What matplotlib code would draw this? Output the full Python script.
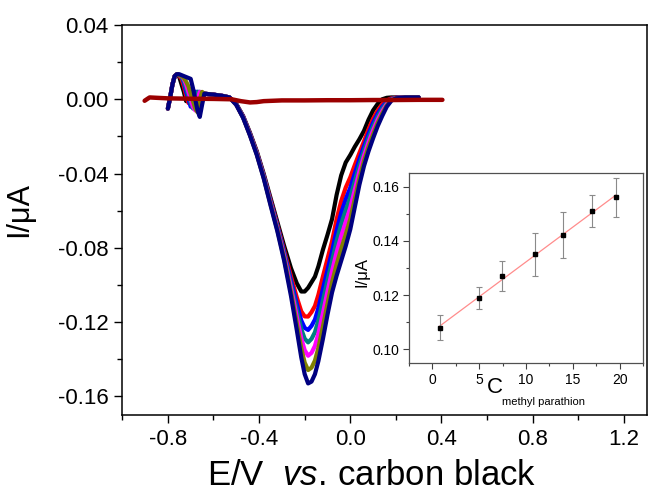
import numpy as np
import matplotlib
matplotlib.use('Agg')
import matplotlib.pyplot as plt
from matplotlib.ticker import MultipleLocator

plt.rcParams['font.family'] = ['Liberation Sans', 'DejaVu Sans']
plt.rcParams['mathtext.fontset'] = 'custom'
plt.rcParams['mathtext.rm'] = 'Liberation Sans'
plt.rcParams['mathtext.it'] = 'Liberation Sans:italic'
plt.rcParams['axes.unicode_minus'] = False

# ---- DPV curves (shared potential grid, V) ----
E = [-0.800, -0.790, -0.780, -0.770, -0.760, -0.750, -0.740, -0.730, -0.720, -0.710,
     -0.700, -0.690, -0.680, -0.670, -0.660, -0.650, -0.640, -0.600, -0.560, -0.530,
     -0.500, -0.470, -0.440, -0.410, -0.380, -0.350, -0.320, -0.290, -0.260, -0.235,
     -0.215, -0.200, -0.185, -0.170, -0.155, -0.140, -0.120, -0.100, -0.080, -0.060,
     -0.040, -0.020, 0.000, 0.020, 0.040, 0.060, 0.080, 0.100, 0.120, 0.140,
     0.160, 0.180, 0.200, 0.240, 0.300]

I_black = [-0.005, 0.001, 0.008, 0.0125, 0.0135, 0.012, 0.008, 0.004, -0.001, 0.002,
           0.004, 0.004, 0.0035, 0.003, 0.003, 0.003, 0.003, 0.0025, 0.0018, 0.001,
           -0.0025, -0.009, -0.018, -0.028, -0.040, -0.053, -0.066, -0.079, -0.091, -0.099,
           -0.1035, -0.1035, -0.1015, -0.0985, -0.0955, -0.090, -0.081, -0.073, -0.0645, -0.0515,
           -0.041, -0.034, -0.030, -0.0255, -0.0215, -0.017, -0.011, -0.006, -0.0025, 0.000,
           0.0008, 0.001, 0.001, 0.001, 0.001]
I_red = [-0.005, 0.001, 0.008, 0.0125, 0.0135, 0.0125, 0.011, 0.007, 0.002, -0.002,
         -0.001, 0.003, 0.004, 0.0035, 0.003, 0.003, 0.003, 0.0025, 0.0018, 0.001,
         -0.0027, -0.0093, -0.0185, -0.0286, -0.0408, -0.0542, -0.0675, -0.0814, -0.0955, -0.1065,
         -0.1142, -0.1169, -0.1170, -0.1146, -0.1113, -0.1053, -0.0954, -0.0859, -0.0764, -0.0646,
         -0.0548, -0.0475, -0.0420, -0.0353, -0.0289, -0.0227, -0.0161, -0.0105, -0.0061, -0.0027,
         -0.0006, 0.0005, 0.0009, 0.001, 0.001]
I_blue = [-0.005, 0.001, 0.008, 0.0125, 0.0135, 0.013, 0.012, 0.009, 0.004, 0.000,
          -0.004, 0.000, 0.004, 0.004, 0.0035, 0.003, 0.003, 0.0025, 0.0018, 0.001,
          -0.0027, -0.0094, -0.0187, -0.0289, -0.0411, -0.0548, -0.0682, -0.0825, -0.0976, -0.1100,
          -0.1191, -0.1231, -0.1242, -0.1220, -0.1186, -0.1124, -0.1021, -0.0919, -0.0819, -0.0706,
          -0.0612, -0.0538, -0.0476, -0.0398, -0.0323, -0.0254, -0.0185, -0.0126, -0.0078, -0.0040,
          -0.0013, 0.0002, 0.0008, 0.001, 0.001]
I_teal = [-0.005, 0.001, 0.008, 0.0125, 0.0135, 0.013, 0.012, 0.010, 0.006, 0.002,
          -0.002, -0.005, 0.000, 0.004, 0.004, 0.0035, 0.003, 0.0025, 0.0018, 0.001,
          -0.0028, -0.0096, -0.0189, -0.0291, -0.0414, -0.0553, -0.0689, -0.0836, -0.0996, -0.1133,
          -0.1237, -0.1289, -0.1309, -0.1290, -0.1254, -0.1191, -0.1084, -0.0975, -0.0870, -0.0763,
          -0.0672, -0.0597, -0.0528, -0.0440, -0.0355, -0.0278, -0.0207, -0.0146, -0.0093, -0.0051,
          -0.0019, 0.0000, 0.0007, 0.001, 0.001]
I_magenta = [-0.005, 0.001, 0.008, 0.0125, 0.0135, 0.013, 0.0125, 0.011, 0.008, 0.004,
             0.000, -0.004, -0.006, 0.000, 0.004, 0.0035, 0.003, 0.0025, 0.0018, 0.001,
             -0.0029, -0.0097, -0.0191, -0.0294, -0.0418, -0.0558, -0.0696, -0.0847, -0.1017, -0.1168,
             -0.1287, -0.1351, -0.1381, -0.1365, -0.1328, -0.1262, -0.1151, -0.1035, -0.0925, -0.0824,
             -0.0737, -0.0660, -0.0584, -0.0486, -0.0389, -0.0305, -0.0231, -0.0167, -0.0110, -0.0064,
             -0.0026, -0.0003, 0.0006, 0.001, 0.001]
I_olive = [-0.005, 0.001, 0.008, 0.0125, 0.0135, 0.013, 0.0125, 0.0115, 0.0095, 0.007,
           0.003, -0.001, -0.005, -0.007, 0.000, 0.004, 0.003, 0.0025, 0.0018, 0.001,
           -0.0029, -0.0099, -0.0193, -0.0297, -0.0422, -0.0564, -0.0703, -0.0859, -0.1039, -0.1205,
           -0.1340, -0.1418, -0.1458, -0.1445, -0.1407, -0.1339, -0.1223, -0.1100, -0.0985, -0.0889,
           -0.0806, -0.0727, -0.0644, -0.0535, -0.0426, -0.0333, -0.0256, -0.0189, -0.0128, -0.0077,
           -0.0033, -0.0005, 0.0006, 0.001, 0.001]
I_navy = [-0.005, 0.001, 0.008, 0.0125, 0.0135, 0.0135, 0.013, 0.0125, 0.012, 0.0115,
          0.011, 0.006, 0.000, -0.006, -0.0095, -0.003, 0.003, 0.0025, 0.0018, 0.001,
          -0.003, -0.010, -0.0195, -0.030, -0.0425, -0.057, -0.071, -0.087, -0.106, -0.124,
          -0.139, -0.148, -0.153, -0.152, -0.148, -0.141, -0.129, -0.116, -0.104, -0.095,
          -0.087, -0.079, -0.070, -0.058, -0.046, -0.036, -0.028, -0.021, -0.0145, -0.009,
          -0.004, -0.0008, 0.0005, 0.001, 0.001]

curves = [I_black, I_red, I_blue, I_teal, I_magenta, I_olive, I_navy]
colors = ['#000000', '#ff0000', '#0000ff', '#008080', '#ff00ff', '#808000', '#000080']

# blank (no analyte)
E_blank = [-0.902, -0.890, -0.880, -0.850, -0.800, -0.750, -0.700, -0.600, -0.520, -0.480,
           -0.440, -0.410, -0.380, -0.340, -0.300, -0.200, -0.100, 0.000, 0.100, 0.200,
           0.300, 0.404]
I_blank = [-0.0008, 0.0002, 0.001, 0.0008, 0.0005, 0.0004, 0.0003, 0.0002, 0.0, -0.001,
           -0.0017, -0.0015, -0.001, -0.0008, -0.0006, -0.0006, -0.0005, -0.0005, -0.0004, -0.0004,
           -0.0003, -0.0003]

# ---- calibration inset ----
conc = [0.8, 5.0, 7.4, 11.0, 14.0, 17.0, 19.6]
peak = [0.108, 0.119, 0.127, 0.135, 0.142, 0.151, 0.156]
err = [0.0045, 0.004, 0.0055, 0.008, 0.0085, 0.006, 0.0073]

fig = plt.figure(figsize=(6.48, 4.95), dpi=100)
ax = fig.add_axes([0.1887, 0.1616, 0.8093, 0.7879])

for y, c in zip(curves, colors):
    ax.plot(E, y, color=c, lw=3.0, solid_joinstyle='round', solid_capstyle='round')
ax.plot(E_blank, I_blank, color='#9b0000', lw=3.2, solid_capstyle='round')

ax.set_xlim(-1.0, 1.3)
ax.set_ylim(-0.17, 0.04)
ax.xaxis.set_minor_locator(MultipleLocator(0.2))
ax.yaxis.set_minor_locator(MultipleLocator(0.02))
ax.set_xticks([-0.8, -0.4, 0.0, 0.4, 0.8, 1.2])
ax.set_xticklabels(['-0.8', '-0.4', '0.0', '0.4', '0.8', '1.2'])
ax.set_yticks([0.04, 0.0, -0.04, -0.08, -0.12, -0.16])
ax.set_yticklabels(['0.04', '0.00', '-0.04', '-0.08', '-0.12', '-0.16'])
ax.tick_params(which='major', direction='out', length=6, width=1, labelsize=16, pad=4)
ax.tick_params(which='minor', direction='out', length=3.5, width=1)
for s in ax.spines.values():
    s.set_linewidth(1.1)

ax.set_xlabel(r'E/V  $\it{vs.}\,$carbon black', fontsize=25)
ax.xaxis.set_label_coords(0.476, -0.112)
ax.set_ylabel('I/\u03bcA', fontsize=22)
ax.yaxis.set_label_coords(-0.168, 0.526)

# inset
axi = fig.add_axes([0.6312, 0.2667, 0.3611, 0.3838])
fit = np.polyfit(conc, peak, 1)
xs = np.array([conc[0], conc[-1]])
axi.plot(xs, np.polyval(fit, xs), color='#ff8c8c', lw=0.9, zorder=1)
axi.errorbar(conc, peak, yerr=err, fmt='none', ecolor='#8a8a8a', elinewidth=0.8,
             capsize=2, capthick=0.8, zorder=2)
axi.plot(conc, peak, 's', color='black', ms=3.5, zorder=3)
axi.set_xlim(-2.5, 22.5)
axi.set_ylim(0.095, 0.165)
axi.xaxis.set_major_locator(MultipleLocator(5))
axi.xaxis.set_minor_locator(MultipleLocator(2.5))
axi.yaxis.set_major_locator(MultipleLocator(0.02))
axi.yaxis.set_minor_locator(MultipleLocator(0.01))
axi.tick_params(which='major', direction='out', length=4, width=0.8, labelsize=10, pad=3,
                color='#404040')
axi.tick_params(which='minor', direction='out', length=2.5, width=0.8, color='#404040')
for s in axi.spines.values():
    s.set_linewidth(0.9)
    s.set_color('#505050')
axi.set_ylabel('I/\u03bcA', fontsize=12)
axi.yaxis.set_label_coords(-0.168, 0.479)
axi.text(0.368, -0.158, 'C', transform=axi.transAxes, ha='center', va='baseline',
         fontsize=16)
axi.text(0.397, -0.221, 'methyl parathion', transform=axi.transAxes, ha='left',
         va='baseline', fontsize=8)

fig.savefig('out.png', dpi=100)
